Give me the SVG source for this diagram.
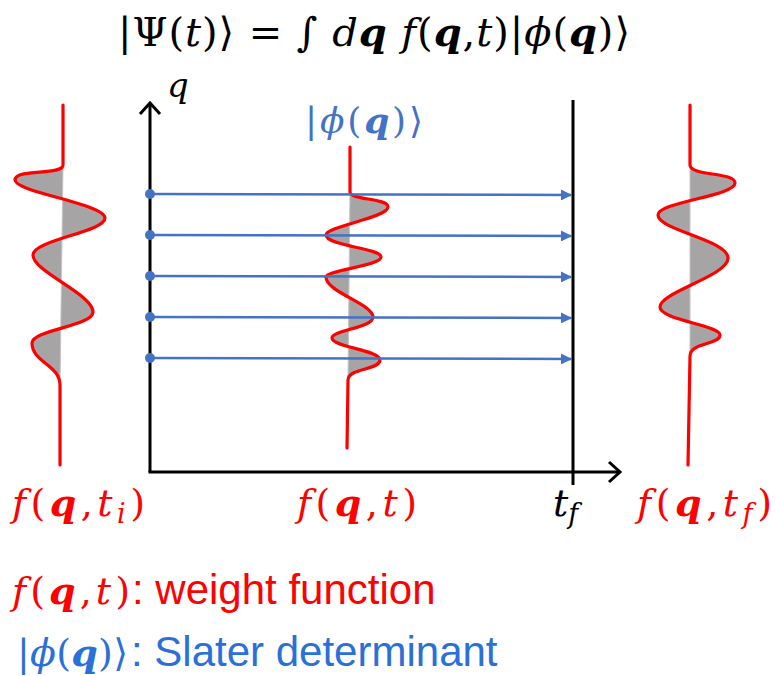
<svg xmlns="http://www.w3.org/2000/svg" width="775" height="676" viewBox="0 0 775 676">
<style>
.m{font-family:"DejaVu Serif","Liberation Serif",serif;font-style:italic}
.up{font-style:normal}
.b{font-weight:bold}
.sans{font-family:"Liberation Sans",Arial,sans-serif;font-style:normal}
.red{fill:#ff0000}
.blue{fill:#4472c4}
.lblue{fill:#2a70d8}
.wave{fill:none;stroke:#ff0000;stroke-width:3.2;stroke-linejoin:round;stroke-linecap:round}
.shade{fill:#a6a4a4;stroke:#c4c4c4;stroke-width:1}
.axis{fill:none;stroke:#000;stroke-width:3}
.ray{stroke:#4472c4;stroke-width:2.5;fill:none}
.dot{fill:#4472c4}
</style>
<defs>
<marker id="tri" viewBox="0 0 10 10" refX="10" refY="5" markerWidth="4.4" markerHeight="4.4" markerUnits="strokeWidth" orient="auto">
<path d="M0,0 L10,5 L0,10 Z" fill="#4472c4"/>
</marker>
</defs>

<g id="title">
<text class="m" x="118" y="46" font-size="40" textLength="512" lengthAdjust="spacing"><tspan class="up">|Ψ(</tspan>t<tspan class="up">)⟩ = ∫ </tspan>d<tspan class="b">q</tspan> f<tspan class="up">(</tspan><tspan class="b">q</tspan><tspan class="up">,</tspan>t<tspan class="up">)|</tspan>ϕ<tspan class="up">(</tspan><tspan class="b">q</tspan><tspan class="up">)⟩</tspan></text>
</g>

<g id="axes">
<line class="axis" x1="150" y1="472" x2="150" y2="103"/>
<polyline class="axis" points="140,114 150,103 160,114"/>
<line class="axis" x1="148.5" y1="472" x2="620" y2="472"/>
<polyline class="axis" points="609,462 620,472 609,482"/>
<text class="m" x="167" y="97" font-size="34">q</text>
</g>

<g id="final-time-line">
<line class="axis" x1="573" y1="100" x2="573" y2="485"/>
<text class="m" x="553" y="516" font-size="38">t<tspan dy="7" font-size="27">f</tspan></text>
</g>

<g id="phi-label">
<text class="m blue" x="305" y="133" font-size="36" textLength="118" lengthAdjust="spacing"><tspan class="up">|</tspan>ϕ<tspan class="up">(</tspan><tspan class="b">q</tspan><tspan class="up">)⟩</tspan></text>
</g>

<g id="wave-initial">
<path class="shade" d="M63,165 C63,176 15,168 15,180 C15,192 105,204 105,218 C105,232 33,240 33,255 C33,272 93,294 93,312 C93,326 32,330 32,343 C32,362 60,365 60,385 Z"/>
<path class="wave" d="M63,105 L63,165 C63,176 15,168 15,180 C15,192 105,204 105,218 C105,232 33,240 33,255 C33,272 93,294 93,312 C93,326 32,330 32,343 C32,362 60,365 60,385 L60,465"/>
<text class="m red" x="12" y="516" font-size="38" textLength="133" lengthAdjust="spacing">f<tspan class="up">(</tspan><tspan class="b">q</tspan><tspan class="up">,</tspan>t<tspan dy="7" font-size="27">i</tspan><tspan class="up" dy="-7">)</tspan></text>
</g>

<g id="wave-middle">
<path class="shade" d="M350,192 C350,200 388,198 388,207 C388,218 326,226 326,235 C326,246 381,248 381,257 C381,266 326,270 326,277 C326,292 373,304 373,317 C373,328 332,330 332,338 C332,347 380,350 380,360 C380,370 348,368 348,380 Z"/>
<path class="wave" d="M350,147 L350,192 C350,200 388,198 388,207 C388,218 326,226 326,235 C326,246 381,248 381,257 C381,266 326,270 326,277 C326,292 373,304 373,317 C373,328 332,330 332,338 C332,347 380,350 380,360 C380,370 348,368 348,380 L347,448"/>
<text class="m red" x="297" y="516" font-size="38" textLength="120" lengthAdjust="spacing">f<tspan class="up">(</tspan><tspan class="b">q</tspan><tspan class="up">,</tspan>t<tspan class="up">)</tspan></text>
</g>

<g id="wave-final">
<path class="shade" d="M690,165 C690,176 735,172 735,183 C735,196 658,202 658,215 C658,230 728,240 728,258 C728,276 660,292 660,307 C660,320 720,325 720,335 C720,345 690,342 690,356 Z"/>
<path class="wave" d="M690,105 L690,165 C690,176 735,172 735,183 C735,196 658,202 658,215 C658,230 728,240 728,258 C728,276 660,292 660,307 C660,320 720,325 720,335 C720,345 690,342 690,356 L688,465"/>
<text class="m red" x="637" y="516" font-size="38" textLength="135" lengthAdjust="spacing">f<tspan class="up">(</tspan><tspan class="b">q</tspan><tspan class="up">,</tspan>t<tspan dy="7" font-size="27">f</tspan><tspan class="up" dy="-7">)</tspan></text>
</g>

<g id="connectors">
<line class="ray" x1="150" y1="194" x2="572" y2="195" marker-end="url(#tri)"/>
<line class="ray" x1="150" y1="235" x2="572" y2="236" marker-end="url(#tri)"/>
<line class="ray" x1="150" y1="276" x2="572" y2="277" marker-end="url(#tri)"/>
<line class="ray" x1="150" y1="317" x2="572" y2="318" marker-end="url(#tri)"/>
<line class="ray" x1="150" y1="358" x2="572" y2="359" marker-end="url(#tri)"/>
<circle class="dot" cx="150" cy="194" r="5"/>
<circle class="dot" cx="150" cy="235" r="5"/>
<circle class="dot" cx="150" cy="276" r="5"/>
<circle class="dot" cx="150" cy="317" r="5"/>
<circle class="dot" cx="150" cy="358" r="5"/>
</g>

<g id="legend-weight">
<text class="m red" x="12" y="604" font-size="38" textLength="118" lengthAdjust="spacing">f<tspan class="up">(</tspan><tspan class="b">q</tspan><tspan class="up">,</tspan>t<tspan class="up">)</tspan></text>
<text class="sans red" x="132" y="604" font-size="42">: weight function</text>
</g>

<g id="legend-slater">
<text class="m lblue" x="17" y="666" font-size="38" textLength="111" lengthAdjust="spacing"><tspan class="up">|</tspan>ϕ<tspan class="up">(</tspan><tspan class="b">q</tspan><tspan class="up">)⟩</tspan></text>
<text class="sans lblue" x="131" y="666" font-size="42">: Slater determinant</text>
</g>
</svg>
